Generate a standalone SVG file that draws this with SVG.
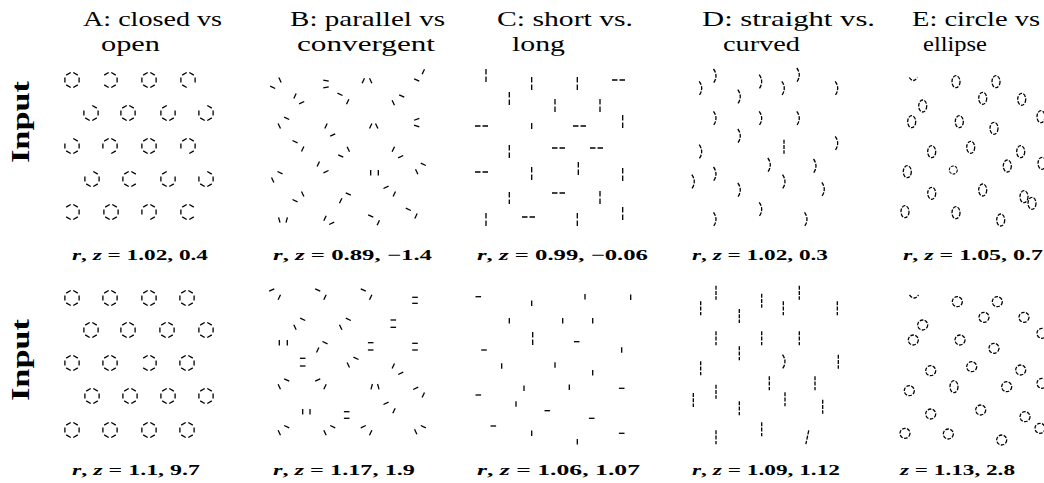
<svg xmlns="http://www.w3.org/2000/svg" xmlns:xlink="http://www.w3.org/1999/xlink" width="1044" height="483" viewBox="0 0 1044 483">
<style>
.t{font-family:"Liberation Serif",serif;font-size:22px;fill:#000}
.lab{font-family:"Liberation Serif",serif;font-size:25px;font-weight:bold;fill:#000}
.cap{font-family:"Liberation Serif",serif;font-size:15px;font-weight:bold;fill:#000}
.cap .m{font-style:italic}
.k{fill:none;stroke:#000;stroke-width:1.3}
.hx{fill:none;stroke:#000;stroke-width:1.3;stroke-dasharray:5.2 3;stroke-dashoffset:6.7}
.dl{fill:none;stroke:#000;stroke-width:1.3;stroke-dasharray:5.5 2}
.cv{fill:none;stroke:#000;stroke-width:1.3;stroke-dasharray:4 1.3}
.el{fill:none;stroke:#000;stroke-width:1.3;stroke-dasharray:3.6 1.4}
</style>
<defs>
<path id="hx" class="hx" d="M0,-8.2 L7.1,-4.1 L7.1,4.1 L0,8.2 L-7.1,4.1 L-7.1,-4.1 Z"/>
<path id="ho" class="hx" d="M7.1,-4.1 L7.1,4.1 L0,8.2 L-7.1,4.1 L-7.1,-4.1 L0,-8.2"/>
<line id="s" class="k" x1="0" y1="-2.8" x2="0" y2="2.8"/>
<path id="cu" class="cv" d="M-1.5,-7 Q3.5,0 -1.5,7"/>
<line id="st" class="cv" x1="0" y1="-7" x2="0" y2="7"/>
<ellipse id="el" class="el" rx="4" ry="6"/>
<circle id="ci" class="el" r="5"/>
</defs>

<g id="titles">
<text class="t" x="83" y="26" textLength="139" lengthAdjust="spacingAndGlyphs">A: closed vs</text>
<text class="t" x="101" y="50.5" textLength="59" lengthAdjust="spacingAndGlyphs">open</text>
<text class="t" x="290" y="26" textLength="155" lengthAdjust="spacingAndGlyphs">B: parallel vs</text>
<text class="t" x="297" y="50.5" textLength="138" lengthAdjust="spacingAndGlyphs">convergent</text>
<text class="t" x="497" y="26" textLength="136" lengthAdjust="spacingAndGlyphs">C: short vs.</text>
<text class="t" x="512" y="50.5" textLength="53" lengthAdjust="spacingAndGlyphs">long</text>
<text class="t" x="702" y="26" textLength="173" lengthAdjust="spacingAndGlyphs">D: straight vs.</text>
<text class="t" x="723" y="50.5" textLength="77" lengthAdjust="spacingAndGlyphs">curved</text>
<text class="t" x="912" y="26" textLength="128" lengthAdjust="spacingAndGlyphs">E: circle vs</text>
<text class="t" x="923" y="50.5" textLength="64" lengthAdjust="spacingAndGlyphs">ellipse</text>
</g>

<g id="row-labels">
<text class="lab" transform="translate(29,122) rotate(-90)" text-anchor="middle" textLength="82" lengthAdjust="spacingAndGlyphs">Input</text>
<text class="lab" transform="translate(29,360) rotate(-90)" text-anchor="middle" textLength="82" lengthAdjust="spacingAndGlyphs">Input</text>
</g>

<g id="captions">
<text class="cap" x="72" y="259.5" textLength="136" lengthAdjust="spacingAndGlyphs"><tspan class="m">r</tspan>, <tspan class="m">z</tspan> = 1.02, 0.4</text>
<text class="cap" x="72" y="474.5" textLength="128" lengthAdjust="spacingAndGlyphs"><tspan class="m">r</tspan>, <tspan class="m">z</tspan> = 1.1, 9.7</text>
<text class="cap" x="273" y="259.5" textLength="159" lengthAdjust="spacingAndGlyphs"><tspan class="m">r</tspan>, <tspan class="m">z</tspan> = 0.89, −1.4</text>
<text class="cap" x="273" y="474.5" textLength="142" lengthAdjust="spacingAndGlyphs"><tspan class="m">r</tspan>, <tspan class="m">z</tspan> = 1.17, 1.9</text>
<text class="cap" x="477" y="259.5" textLength="171" lengthAdjust="spacingAndGlyphs"><tspan class="m">r</tspan>, <tspan class="m">z</tspan> = 0.99, −0.06</text>
<text class="cap" x="477" y="474.5" textLength="163" lengthAdjust="spacingAndGlyphs"><tspan class="m">r</tspan>, <tspan class="m">z</tspan> = 1.06, 1.07</text>
<text class="cap" x="692" y="259.5" textLength="136" lengthAdjust="spacingAndGlyphs"><tspan class="m">r</tspan>, <tspan class="m">z</tspan> = 1.02, 0.3</text>
<text class="cap" x="692" y="474.5" textLength="148" lengthAdjust="spacingAndGlyphs"><tspan class="m">r</tspan>, <tspan class="m">z</tspan> = 1.09, 1.12</text>
<text class="cap" x="903" y="259.5" textLength="140" lengthAdjust="spacingAndGlyphs"><tspan class="m">r</tspan>, <tspan class="m">z</tspan> = 1.05, 0.7</text>
<text class="cap" x="900" y="474.5" textLength="115" lengthAdjust="spacingAndGlyphs"><tspan class="m">z</tspan> = 1.13, 2.8</text>
</g>

<g id="panel-A-top">
<use href="#hx" x="72" y="80"/><use href="#ho" transform="translate(110,80) rotate(240)"/><use href="#hx" x="149" y="80"/><use href="#ho" transform="translate(188,80) rotate(120)"/>
<use href="#ho" transform="translate(91,113) rotate(300)"/><use href="#hx" x="128" y="113"/><use href="#ho" transform="translate(168,113)"/><use href="#ho" transform="translate(206,113) rotate(300)"/>
<use href="#ho" transform="translate(72,146) rotate(300)"/><use href="#ho" transform="translate(110,146) rotate(180)"/><use href="#hx" x="149" y="146"/><use href="#ho" transform="translate(188,146) rotate(180)"/>
<use href="#ho" transform="translate(92,179) rotate(300)"/><use href="#ho" transform="translate(130,179) rotate(60)"/><use href="#ho" transform="translate(168,179)"/><use href="#ho" transform="translate(206,179) rotate(300)"/>
<use href="#ho" transform="translate(72,212) rotate(240)"/><use href="#hx" x="111" y="212"/><use href="#ho" transform="translate(149,212) rotate(180)"/><use href="#ho" transform="translate(188,212) rotate(60)"/>
</g>

<g id="panel-A-bottom">
<use href="#hx" x="72" y="298"/><use href="#hx" x="110" y="298"/><use href="#hx" x="149" y="298"/><use href="#hx" x="187" y="298"/>
<use href="#hx" x="91" y="330"/><use href="#hx" x="128" y="330"/><use href="#hx" x="167" y="330"/><use href="#hx" x="206" y="330"/>
<use href="#hx" x="72" y="363"/><use href="#hx" x="110" y="363"/><use href="#ho" transform="translate(149,363) rotate(240)"/><use href="#hx" x="187" y="363"/>
<use href="#hx" x="92" y="396"/><use href="#hx" x="130" y="396"/><use href="#hx" x="168" y="396"/><use href="#hx" x="206" y="396"/>
<use href="#hx" x="72" y="430"/><use href="#hx" x="110" y="430"/><use href="#hx" x="149" y="430"/><use href="#hx" x="187" y="430"/>
</g>

<g id="panel-B-top">
<use href="#s" transform="translate(272.7,87.3) rotate(-65)"/><use href="#s" transform="translate(280,80) rotate(-25)"/>
<use href="#s" transform="translate(326,80.7) rotate(100)"/><use href="#s" transform="translate(326,87.3) rotate(80)"/>
<use href="#s" transform="translate(363.3,80.7) rotate(25)"/><use href="#s" transform="translate(370.7,80.7) rotate(-25)"/>
<use href="#s" transform="translate(416.7,80) rotate(-65)"/><use href="#s" transform="translate(423.3,71.7) rotate(25)"/>
<use href="#s" transform="translate(295,96) rotate(25)"/><use href="#s" transform="translate(301.7,102.7) rotate(65)"/>
<use href="#s" transform="translate(340,94.3) rotate(-65)"/><use href="#s" transform="translate(347.7,101.7) rotate(25)"/>
<use href="#s" transform="translate(393.3,102.7) rotate(-25)"/><use href="#s" transform="translate(401.7,96) rotate(-65)"/>
<use href="#s" transform="translate(279.3,126) rotate(-25)"/><use href="#s" transform="translate(286.7,118.3) rotate(-65)"/>
<use href="#s" transform="translate(326,126) rotate(25)"/><use href="#s" transform="translate(332.7,135) rotate(65)"/>
<use href="#s" transform="translate(370.7,126) rotate(25)"/><use href="#s" transform="translate(376.7,126) rotate(-25)"/>
<use href="#s" transform="translate(416.7,119.3) rotate(70)"/><use href="#s" transform="translate(416.7,126) rotate(110)"/>
<use href="#s" transform="translate(295,141.7) rotate(-65)"/><use href="#s" transform="translate(302.7,149) rotate(25)"/>
<use href="#s" transform="translate(340.7,156) rotate(-65)"/><use href="#s" transform="translate(348.3,149.3) rotate(-25)"/>
<use href="#s" transform="translate(393.3,149.3) rotate(25)"/><use href="#s" transform="translate(400.7,156.7) rotate(65)"/>
<use href="#s" transform="translate(272.7,180) rotate(-25)"/><use href="#s" transform="translate(280,172.7) rotate(-65)"/>
<use href="#s" transform="translate(318.3,164) rotate(25)"/><use href="#s" transform="translate(326,171.7) rotate(65)"/>
<use href="#s" transform="translate(370.7,172.7)"/><use href="#s" transform="translate(378.3,172.7)"/>
<use href="#s" transform="translate(416.7,171.7) rotate(-25)"/><use href="#s" transform="translate(423.3,164.3) rotate(-65)"/>
<use href="#s" transform="translate(295,200.7) rotate(-65)"/><use href="#s" transform="translate(302.7,194) rotate(-25)"/>
<use href="#s" transform="translate(340.7,200.7) rotate(25)"/><use href="#s" transform="translate(348.3,194) rotate(-65)"/>
<use href="#s" transform="translate(386,187.3) rotate(65)"/><use href="#s" transform="translate(394.3,194) rotate(25)"/>
<use href="#s" transform="translate(279.3,220) rotate(-15)"/><use href="#s" transform="translate(286.7,220) rotate(15)"/>
<use href="#s" transform="translate(325,218.3) rotate(25)"/><use href="#s" transform="translate(331.7,223.3) rotate(65)"/>
<use href="#s" transform="translate(370.7,216) rotate(-65)"/><use href="#s" transform="translate(378.3,222.7) rotate(25)"/>
<use href="#s" transform="translate(408.3,209.3) rotate(-65)"/><use href="#s" transform="translate(416,216) rotate(25)"/>
</g>

<g id="panel-B-bottom">
<use href="#s" transform="translate(271.7,290) rotate(65)"/><use href="#s" transform="translate(279.3,297.3) rotate(25)"/>
<use href="#s" transform="translate(317.7,290) rotate(-65)"/><use href="#s" transform="translate(325,297.3) rotate(25)"/>
<use href="#s" transform="translate(363.3,290) rotate(-65)"/><use href="#s" transform="translate(370.7,297.3) rotate(25)"/>
<use href="#s" transform="translate(415,297.3) rotate(90)"/><use href="#s" transform="translate(415,303.3) rotate(90)"/>
<use href="#s" transform="translate(295,327.3) rotate(-25)"/><use href="#s" transform="translate(302.7,319.3) rotate(-65)"/>
<use href="#s" transform="translate(340.7,327.3) rotate(-25)"/><use href="#s" transform="translate(348.3,319.3) rotate(-65)"/>
<use href="#s" transform="translate(393.3,320) rotate(90)"/><use href="#s" transform="translate(393.3,327.3) rotate(90)"/>
<use href="#s" transform="translate(279.3,342.7)"/><use href="#s" transform="translate(287.3,342.7)"/>
<use href="#s" transform="translate(317.7,350) rotate(25)"/><use href="#s" transform="translate(325,342.7) rotate(-65)"/>
<use href="#s" transform="translate(370.7,342.7) rotate(90)"/><use href="#s" transform="translate(370.7,350) rotate(90)"/>
<use href="#s" transform="translate(415,343.3) rotate(90)"/><use href="#s" transform="translate(415,350) rotate(90)"/>
<use href="#s" transform="translate(302.7,358.3) rotate(90)"/><use href="#s" transform="translate(302.7,366) rotate(90)"/>
<use href="#s" transform="translate(348.3,365) rotate(-25)"/><use href="#s" transform="translate(356,358.3) rotate(-65)"/>
<use href="#s" transform="translate(393.3,366) rotate(25)"/><use href="#s" transform="translate(400.7,373.3) rotate(65)"/>
<use href="#s" transform="translate(279.3,386.7) rotate(-25)"/><use href="#s" transform="translate(286.7,380) rotate(-65)"/>
<use href="#s" transform="translate(317.7,380) rotate(65)"/><use href="#s" transform="translate(325,386.7) rotate(25)"/>
<use href="#s" transform="translate(371.7,386.7) rotate(15)"/><use href="#s" transform="translate(378.3,386.7) rotate(-15)"/>
<use href="#s" transform="translate(415.7,388.3) rotate(65)"/><use href="#s" transform="translate(423.3,395) rotate(25)"/>
<use href="#s" transform="translate(302.7,411.7)"/><use href="#s" transform="translate(310,411.7)"/>
<use href="#s" transform="translate(346.7,411.7) rotate(90)"/><use href="#s" transform="translate(346.7,418.3) rotate(90)"/>
<use href="#s" transform="translate(386,403.3) rotate(65)"/><use href="#s" transform="translate(394,410.7) rotate(25)"/>
<use href="#s" transform="translate(279.3,432.7) rotate(-25)"/><use href="#s" transform="translate(286.7,426.7) rotate(-65)"/>
<use href="#s" transform="translate(325,432.7) rotate(-25)"/><use href="#s" transform="translate(332.7,426.7) rotate(-65)"/>
<use href="#s" transform="translate(363.3,426.7) rotate(65)"/><use href="#s" transform="translate(370.7,432.7) rotate(25)"/>
<use href="#s" transform="translate(415.7,431.7) rotate(-25)"/><use href="#s" transform="translate(423.3,426.7) rotate(-65)"/>
</g>

<g id="panel-C-top">
<line class="dl" x1="486" y1="69" x2="486" y2="82"/>
<line class="dl" x1="531.7" y1="77" x2="531.7" y2="90"/>
<line class="dl" x1="577.3" y1="77" x2="577.3" y2="90"/>
<line class="dl" x1="612" y1="80" x2="625" y2="80"/>
<line class="dl" x1="509.3" y1="92" x2="509.3" y2="105"/>
<line class="dl" x1="555" y1="99" x2="555" y2="113"/>
<line class="dl" x1="600" y1="99" x2="600" y2="113"/>
<line class="dl" x1="475" y1="126" x2="488" y2="126"/>
<line class="k" x1="531.7" y1="123" x2="531.7" y2="129"/>
<line class="dl" x1="573" y1="126" x2="587" y2="126"/>
<line class="dl" x1="622.7" y1="115" x2="622.7" y2="128"/>
<line class="dl" x1="509.3" y1="145" x2="509.3" y2="159"/>
<line class="dl" x1="552" y1="148" x2="565" y2="148"/>
<line class="dl" x1="590" y1="148" x2="603" y2="148"/>
<line class="dl" x1="475" y1="172" x2="488" y2="172"/>
<line class="dl" x1="531.7" y1="167" x2="531.7" y2="182"/>
<line class="dl" x1="578.3" y1="162" x2="578.3" y2="175" stroke="#666"/>
<line class="dl" x1="622.7" y1="168" x2="622.7" y2="182"/>
<line class="dl" x1="509.3" y1="192" x2="509.3" y2="204"/>
<line class="dl" x1="552" y1="193" x2="565" y2="193"/>
<line class="dl" x1="600" y1="191" x2="600" y2="204"/>
<line class="dl" x1="622.7" y1="207" x2="622.7" y2="220"/>
<line class="dl" x1="486" y1="213" x2="486" y2="227"/>
<line class="dl" x1="522" y1="217" x2="535" y2="217"/>
<line class="dl" x1="577.3" y1="213" x2="577.3" y2="227"/>
</g>

<g id="panel-C-bottom">
<use href="#s" transform="translate(478.3,296.7) rotate(90)"/>
<use href="#s" transform="translate(531.7,303.3)"/>
<use href="#s" transform="translate(585,296.7)"/>
<use href="#s" transform="translate(630.7,297.3)"/>
<use href="#s" transform="translate(509.3,320.7)"/>
<use href="#s" transform="translate(562.7,320.7)"/>
<use href="#s" transform="translate(592.7,320.7)"/>
<line class="dl" x1="532.7" y1="332" x2="532.7" y2="346"/>
<use href="#s" transform="translate(576.7,341.7) rotate(90)"/>
<use href="#s" transform="translate(484,350) rotate(90)"/>
<use href="#s" transform="translate(621.7,350)"/>
<use href="#s" transform="translate(501.7,366)"/>
<use href="#s" transform="translate(555,365)"/>
<use href="#s" transform="translate(592.7,372.7)"/>
<use href="#s" transform="translate(524,388.3)"/>
<use href="#s" transform="translate(569.3,387.3)"/>
<use href="#s" transform="translate(621.7,388.3) rotate(90)"/>
<use href="#s" transform="translate(478.3,395) rotate(90)"/>
<use href="#s" transform="translate(516,404)"/>
<use href="#s" transform="translate(547.3,410.7) rotate(90)"/>
<use href="#s" transform="translate(591.7,418.3) rotate(90)"/>
<use href="#s" transform="translate(493.3,426) rotate(90)"/>
<use href="#s" transform="translate(531.7,433.3)"/>
<use href="#s" transform="translate(621.7,433.3) rotate(90)"/>
<use href="#s" transform="translate(577.3,441.7)"/>
</g>

<g id="panel-D-top">
<use href="#cu" x="715" y="76"/><use href="#cu" x="700.7" y="88.3"/><use href="#cu" x="739.3" y="96.7"/>
<use href="#cu" x="760.7" y="81.7"/><use href="#cu" x="783.3" y="88.3"/><use href="#cu" x="798.3" y="75"/>
<use href="#cu" x="836.7" y="88.3"/><use href="#cu" x="715" y="118.3"/><use href="#cu" x="760.7" y="118.3"/>
<use href="#cu" x="798.3" y="118.3"/><use href="#cu" x="739.3" y="136"/><use href="#st" x="784" y="146.7"/>
<use href="#cu" x="836.7" y="143.3"/><use href="#cu" x="700.7" y="151.7"/><use href="#cu" x="769.3" y="165"/>
<use href="#cu" x="815" y="166"/><use href="#cu" x="715" y="174"/><use href="#cu" x="693.3" y="181.7"/>
<use href="#cu" x="784" y="181.7"/><use href="#cu" x="739.3" y="190"/><use href="#cu" x="823.3" y="189.3"/>
<use href="#cu" x="715" y="219.3"/><use href="#cu" x="760.7" y="209.3"/><use href="#cu" x="806" y="219.3"/>
</g>

<g id="panel-D-bottom">
<use href="#st" x="716" y="292.7"/><use href="#st" x="700.7" y="308.3"/><use href="#st" x="739.3" y="316"/>
<use href="#st" x="761.7" y="300.7"/><use href="#st" x="783.3" y="308.3"/><use href="#st" x="799.3" y="292.7"/>
<use href="#st" x="837.3" y="308.3"/><use href="#st" x="716" y="338.3"/><use href="#st" x="761.7" y="338.3"/>
<use href="#st" x="799.3" y="338.3"/><use href="#st" x="739.3" y="353.3"/><use href="#cu" x="784" y="361.7"/>
<use href="#st" x="838.3" y="361.7"/><use href="#st" x="700.7" y="368.3"/><use href="#st" x="769.3" y="383.3"/>
<use href="#st" x="815" y="383.3"/><use href="#st" x="716" y="391.7"/><use href="#st" x="693.3" y="400"/>
<use href="#st" x="785" y="399.3"/><use href="#st" x="739.3" y="408.3"/><use href="#st" x="822.7" y="406.7"/>
<use href="#st" x="716" y="437.3"/><use href="#st" x="761.7" y="429.3"/><use href="#st" transform="translate(807.3,437.3) rotate(12)"/>
</g>

<g id="panel-E-top">
<path class="el" d="M909.3,77.5 Q913.3,83.5 917.3,77.5"/>
<use href="#el" x="956" y="81.7"/><use href="#el" x="996" y="81.7"/><use href="#el" x="922.7" y="106"/>
<use href="#el" x="982.7" y="98.3"/><use href="#el" x="1021.7" y="99.3"/><use href="#el" x="1041" y="116.7"/>
<use href="#el" x="911.7" y="121.7"/><use href="#el" x="959.3" y="121.7"/><use href="#el" x="994" y="128.3"/>
<use href="#el" x="931.7" y="151.7"/><use href="#el" x="970.7" y="147.3"/><use href="#el" x="1020.7" y="151.7"/>
<use href="#el" x="907.3" y="171.7"/><use href="#ci" transform="translate(953.3,170) scale(0.8)"/><use href="#el" x="1007.3" y="166"/>
<use href="#el" x="1042" y="163.3"/><use href="#el" x="931.7" y="193.3"/><use href="#el" x="982.7" y="190"/>
<use href="#el" x="1024" y="196.7"/><use href="#el" x="1032" y="203.3"/><use href="#el" x="905" y="211.7"/>
<use href="#el" x="956" y="212.7"/><use href="#el" x="1000.7" y="220"/>
</g>

<g id="panel-E-bottom">
<path class="el" d="M909.5,295 Q914,301 918.5,295"/>
<use href="#ci" x="957.3" y="301.7"/><use href="#ci" x="997.3" y="301.7"/><use href="#ci" x="922.7" y="325"/>
<use href="#ci" x="984" y="317.3"/><use href="#ci" x="1024" y="317.3"/><use href="#ci" x="1042" y="333.3"/>
<use href="#ci" x="913.3" y="340"/><use href="#ci" x="960" y="340"/><use href="#ci" x="994" y="348.3"/>
<use href="#ci" x="930.7" y="370.7"/><use href="#ci" x="971.7" y="366.7"/><use href="#ci" x="1020.7" y="370"/>
<use href="#el" x="954" y="386.7"/><use href="#ci" x="909.3" y="390.7"/><use href="#ci" x="1006.7" y="386.7"/>
<use href="#ci" x="1042" y="383.3"/><use href="#ci" x="930.7" y="414"/><use href="#ci" x="980.7" y="410"/>
<use href="#ci" x="1025" y="416.7"/><use href="#ci" x="1040" y="428.3"/><use href="#ci" x="905" y="433.3"/>
<use href="#ci" x="948.3" y="434"/><use href="#ci" x="1001.7" y="440"/>
</g>
</svg>
